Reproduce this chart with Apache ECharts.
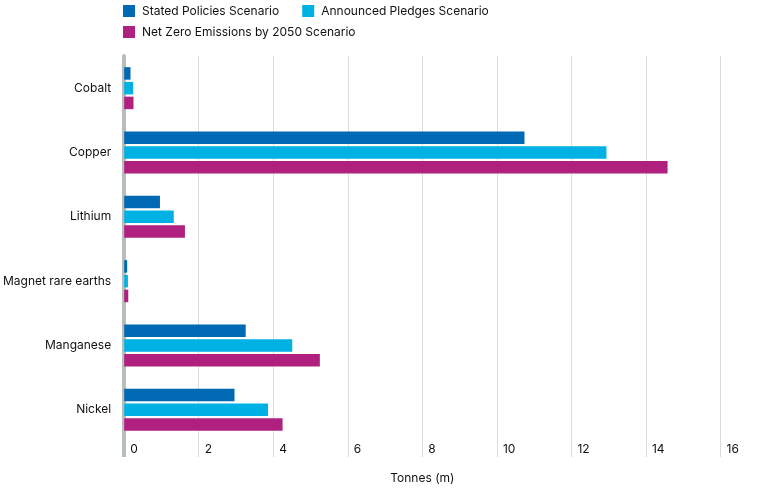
<!DOCTYPE html>
<html>
<head>
<meta charset="utf-8">
<script src="https://cdn.jsdelivr.net/npm/echarts@6/dist/echarts.min.js"></script>
<style>
  html, body { margin: 0; padding: 0; background: #fff; }
  #chart { width: 764px; height: 489px; }
</style>
</head>
<body>
<div id="chart"></div>
<script>
const minerals = ['Cobalt', 'Copper', 'Lithium', 'Magnet rare earths', 'Manganese', 'Nickel'];
const seriesNames = ['Stated Policies Scenario', 'Announced Pledges Scenario', 'Net Zero Emissions by 2050 Scenario'];
const statedPolicies = [0.17, 10.74, 0.96, 0.08, 3.26, 2.96];
const announcedPledges = [0.24, 12.94, 1.33, 0.1, 4.51, 3.86];
const netZero = [0.25, 14.58, 1.63, 0.11, 5.25, 4.25];
const xTicks = [0, 2, 4, 6, 8, 10, 12, 14, 16];

(function () {
  const chartDom = document.getElementById('chart');
  const myChart = echarts.init(chartDom);

  const colors = ['#0069b4', '#00b1e4', '#b0207f'];
  const font = 'Inter, "Noto Sans", sans-serif';
  const textColor = '#111111';
  const gridColor = '#dcdcdc';
  const axisColor = '#b7bdbb';

  const legendBase = {
    left: 118,
    itemWidth: 12,
    itemHeight: 12,
    itemGap: 23,
    icon: 'rect',
    selectedMode: false,
    textStyle: { fontFamily: font, fontSize: 12, color: textColor, padding: [0, 0, 0, 2] }
  };

  const values = [statedPolicies, announcedPledges, netZero];

  const option = {
    animation: false,
    color: colors,
    legend: [
      Object.assign({}, legendBase, { top: 0, data: seriesNames.slice(0, 2) }),
      Object.assign({}, legendBase, { top: 21, data: seriesNames.slice(2) })
    ],
    grid: { left: 124, right: 43.5, top: 56, bottom: 43.7, containLabel: false },
    xAxis: [
      {
        type: 'value',
        min: 0,
        max: 16,
        interval: 2,
        axisLine: { show: false },
        axisTick: { show: true, length: 15, lineStyle: { color: gridColor, width: 1 } },
        splitLine: { show: true, lineStyle: { color: gridColor, width: 1 } },
        axisLabel: {
          fontFamily: font, fontSize: 12, color: textColor,
          align: 'left', verticalAlign: 'middle', margin: 7, padding: [0, 0, 0, 6],
          customValues: xTicks
        },
        name: 'Tonnes (m)',
        nameLocation: 'middle',
        nameGap: 30,
        nameTextStyle: { fontFamily: font, fontSize: 12, color: textColor }
      },
      {
        type: 'value',
        min: 0,
        max: 16,
        position: 'bottom',
        axisLine: { show: false },
        axisLabel: { show: false },
        splitLine: { show: false },
        axisTick: { show: true, length: 15, customValues: [0], lineStyle: { color: axisColor, width: 4 } }
      }
    ],
    yAxis: {
      type: 'category',
      inverse: true,
      data: minerals,
      axisLine: { show: true, lineStyle: { color: axisColor, width: 4 } },
      axisTick: { show: false },
      axisLabel: { fontFamily: font, fontSize: 12, color: textColor, margin: 13 }
    },
    series: seriesNames.map((name, i) => ({
      name: name,
      type: 'bar',
      data: values[i],
      barWidth: 12.5,
      barGap: '18%',
      barCategoryGap: '35%',
      itemStyle: { color: colors[i] }
    }))
  };

  myChart.setOption(option);
  window.addEventListener('resize', () => myChart.resize());
})();
</script>
</body>
</html>
